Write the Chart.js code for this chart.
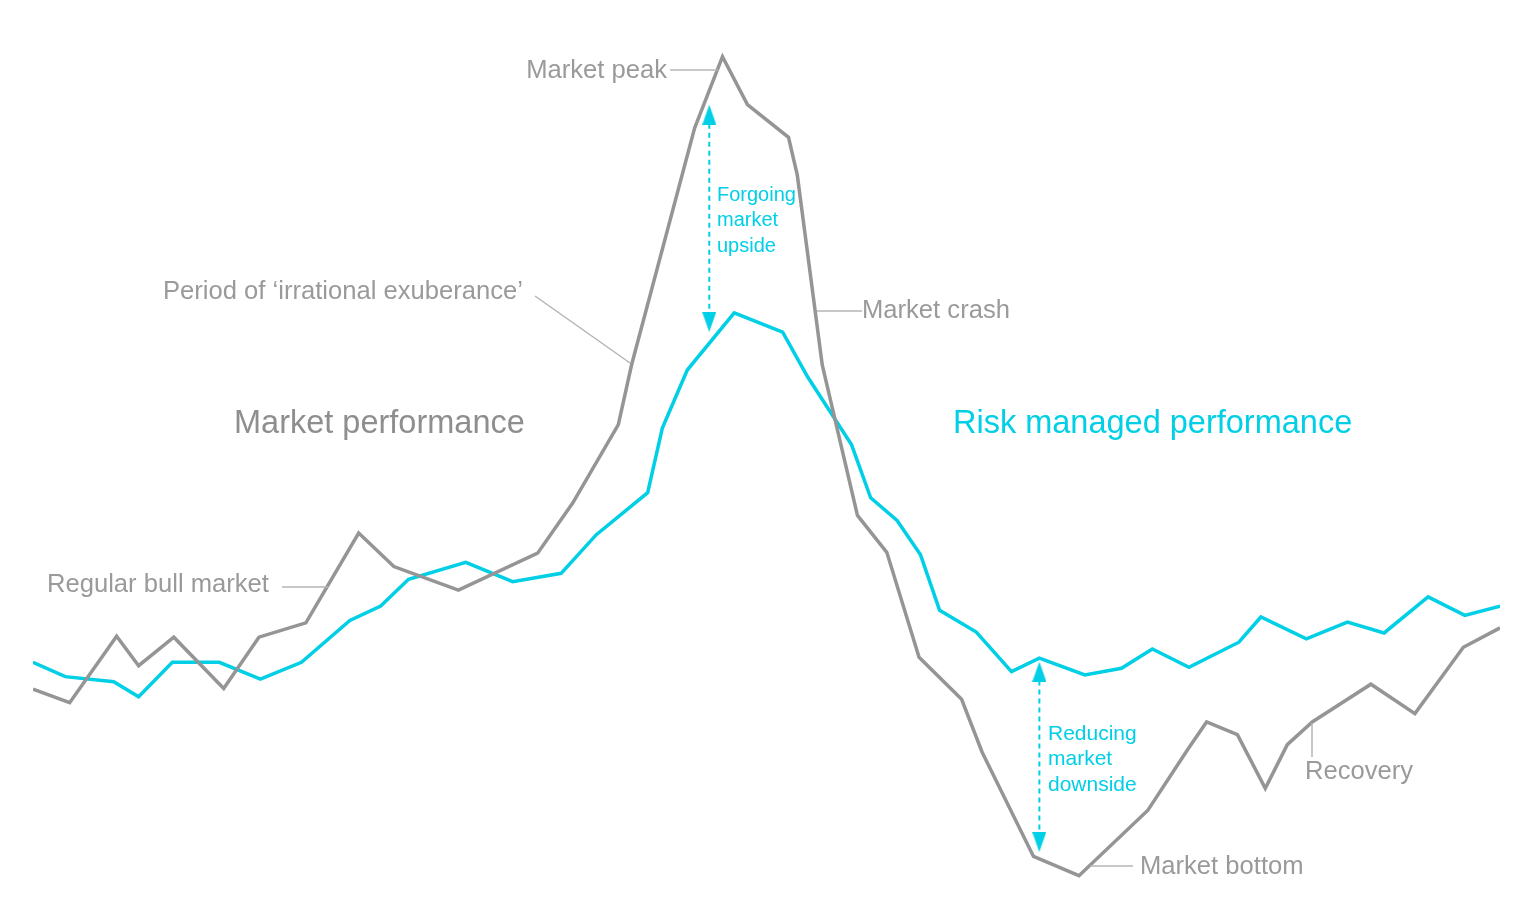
<!DOCTYPE html>
<html>
<head>
<meta charset="utf-8">
<script src="https://cdn.jsdelivr.net/npm/chart.js@4.4.1/dist/chart.umd.min.js"></script>
<style>
    html, body { margin: 0; padding: 0; background: #fff; }
    #wrap { width: 1536px; height: 918px; position: relative; }
</style>
</head>
<body>
<div id="wrap"><canvas id="chart" width="1536" height="918"></canvas></div>
<script>
// time axis runs 0..100, index axis 0..100 (no units shown in the original)
const marketX = [0, 2.5, 5.7, 7.2, 9.6, 13.0, 15.4, 18.6, 22.2, 24.6, 29.0, 34.4, 36.8, 39.9, 40.8,
    45.1, 47.0, 48.7, 51.5, 52.1, 53.8, 56.2, 58.2, 60.4, 63.3, 64.7, 68.2, 71.3, 76.0, 78.7,
    80.0, 82.1, 84.0, 85.5, 87.2, 91.2, 94.2, 97.5, 100];
const marketY = [23.9, 22.3, 30.2, 26.7, 30.1, 24.0, 30.1, 31.8, 42.5, 38.5, 35.7, 40.1, 46.1, 55.4, 62.5,
    90.7, 99.2, 93.5, 89.6, 85.1, 62.5, 44.6, 40.2, 27.7, 22.7, 16.4, 4.0, 1.7, 9.5, 16.7,
    20.0, 18.5, 12.1, 17.3, 20.0, 24.5, 21.0, 28.9, 31.2];

const riskX = [0, 2.2, 5.5, 7.2, 9.5, 12.7, 15.5, 18.3, 21.6, 23.7, 25.6, 29.5, 32.7, 36.0, 38.4,
    41.9, 42.9, 44.6, 47.8, 51.1, 52.8, 55.8, 57.1, 58.9, 60.5, 61.8, 64.3, 66.7, 68.6, 71.7,
    74.2, 76.3, 78.8, 82.2, 83.7, 86.8, 89.6, 92.1, 95.1, 97.6, 100];
const riskY = [27.1, 25.4, 24.8, 23.0, 27.1, 27.1, 25.1, 27.1, 32.1, 33.8, 37.0, 39.0, 36.7, 37.7, 42.3,
    47.3, 55.0, 61.9, 68.7, 66.4, 61.1, 53.0, 46.7, 44.0, 39.9, 33.3, 30.7, 26.0, 27.6, 25.6,
    26.4, 28.7, 26.5, 29.5, 32.5, 29.9, 31.9, 30.6, 34.9, 32.7, 33.8];

// gap arrows: x position, top value, bottom value
const upsideArrow = [46.1, 92.3, 67.6];
const downsideArrow = [68.6, 26.0, 5.7];

const GREY = '#959595';
const LABEL = '#9a9a9a';
const CYAN = '#00cfe6';

function toPoints(xs, ys) {
    return xs.map((x, i) => ({ x: x, y: ys[i] }));
}

// narrow arrowhead used as a point image
function makeArrowHead() {
    const c = document.createElement('canvas');
    c.width = 14;
    c.height = 20;
    const g = c.getContext('2d');
    g.fillStyle = CYAN;
    g.beginPath();
    g.moveTo(7, 0);
    g.lineTo(14, 20);
    g.lineTo(0, 20);
    g.closePath();
    g.fill();
    return c;
}
const arrowHead = makeArrowHead();

function arrowDataset(a) {
    return {
        data: [{ x: a[0], y: a[1] }, { x: a[0], y: a[2] }],
        borderColor: CYAN,
        borderWidth: 2,
        borderDash: [5, 4],
        pointStyle: arrowHead,
        pointRotation: [0, 180],
        pointRadius: 10,
        order: 3
    };
}

// text and leader lines, in canvas pixels
const notes = [
    { text: 'Market peak', x: 667, y: 71, align: 'right', line: [670, 70, 718, 70] },
    { text: 'Period of \u2018irrational exuberance\u2019', x: 163, y: 292, line: [535, 296, 630, 363] },
    { text: 'Market crash', x: 862, y: 311, line: [817, 311, 862, 311] },
    { text: 'Regular bull market', x: 47, y: 585, line: [282, 587, 328, 587] },
    { text: 'Market bottom', x: 1140, y: 867, line: [1090, 866, 1133, 866] },
    { text: 'Recovery', x: 1305, y: 772, line: [1312, 723, 1312, 757] }
];

const titles = [
    { text: 'Market performance', x: 234, y: 424, color: '#8e8e8e' },
    { text: 'Risk managed performance', x: 953, y: 424, color: CYAN }
];

const gapNotes = [
    { lines: ['Forgoing', 'market', 'upside'], x: 717, y: 195, size: 20 },
    { lines: ['Reducing', 'market', 'downside'], x: 1048, y: 734, size: 21 }
];

const notesPlugin = {
    id: 'notes',
    afterDatasetsDraw(chart) {
        const ctx = chart.ctx;
        ctx.save();
        ctx.textBaseline = 'middle';

        ctx.strokeStyle = '#b4b4b4';
        ctx.lineWidth = 1.5;
        ctx.font = '25.6px "Liberation Sans", Arial, sans-serif';
        ctx.fillStyle = LABEL;
        notes.forEach(n => {
            const l = n.line;
            ctx.beginPath();
            ctx.moveTo(l[0], l[1]);
            ctx.lineTo(l[2], l[3]);
            ctx.stroke();
            ctx.textAlign = n.align || 'left';
            ctx.fillText(n.text, n.x, n.y);
        });

        ctx.textAlign = 'left';
        ctx.font = '32.5px "Liberation Sans", Arial, sans-serif';
        titles.forEach(t => {
            ctx.fillStyle = t.color;
            ctx.fillText(t.text, t.x, t.y);
        });

        ctx.fillStyle = CYAN;
        gapNotes.forEach(g => {
            ctx.font = g.size + 'px "Liberation Sans", Arial, sans-serif';
            g.lines.forEach((s, i) => ctx.fillText(s, g.x, g.y + i * 25.5));
        });
        ctx.restore();
    }
};

new Chart(document.getElementById('chart').getContext('2d'), {
    type: 'line',
    data: {
        datasets: [
            {
                label: 'Market performance',
                data: toPoints(marketX, marketY),
                borderColor: GREY,
                borderWidth: 3.5,
                pointRadius: 0,
                tension: 0,
                order: 1
            },
            {
                label: 'Risk managed performance',
                data: toPoints(riskX, riskY),
                borderColor: CYAN,
                borderWidth: 3.5,
                pointRadius: 0,
                tension: 0,
                order: 2
            },
            arrowDataset(upsideArrow),
            arrowDataset(downsideArrow)
        ]
    },
    options: {
        responsive: false,
        animation: false,
        layout: { padding: { left: 33, right: 36, top: 50, bottom: 28 } },
        plugins: {
            legend: { display: false },
            tooltip: { enabled: false }
        },
        scales: {
            x: { type: 'linear', min: 0, max: 100, display: false },
            y: { type: 'linear', min: 0, max: 100, display: false }
        }
    },
    plugins: [notesPlugin]
});
</script>
</body>
</html>
